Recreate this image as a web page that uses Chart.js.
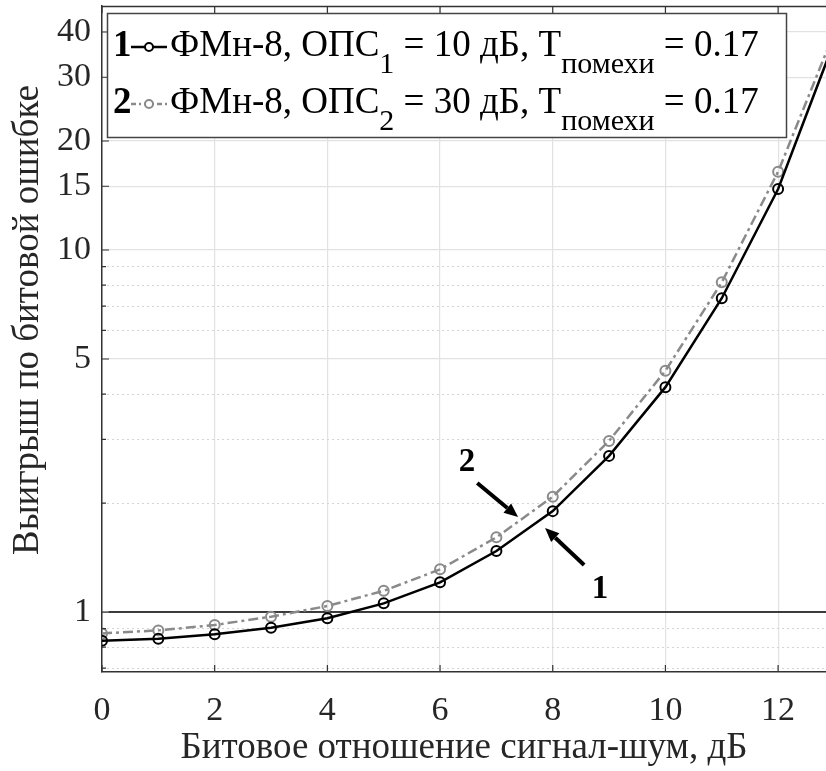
<!DOCTYPE html>
<html>
<head>
<meta charset="utf-8">
<script src="https://cdn.jsdelivr.net/npm/chart.js@4.4.0/dist/chart.umd.min.js"></script>
<style>
  html, body { margin: 0; padding: 0; background: #fff; }
  #wrap { width: 826px; height: 771px; position: relative; }
</style>
</head>
<body>
<div id="wrap"><canvas id="gain-chart"></canvas></div>
<script>
// Bit-error gain vs Eb/N0 for 8-PSK with two jammer suppression levels
const snrDb = [0, 1, 2, 3, 4, 5, 6, 7, 8, 9, 10, 11, 12, 13];
const gainOps10 = [0.833, 0.844, 0.868, 0.905, 0.961, 1.057, 1.208, 1.474, 1.90, 2.70, 4.18, 7.36, 14.74, 37.8];
const gainOps30 = [0.873, 0.890, 0.921, 0.971, 1.039, 1.145, 1.312, 1.608, 2.083, 2.97, 4.64, 8.14, 16.46, 40.0];

// reference level "no gain"
const unityX = [0.12, 13];
const unityY = [1, 1];

const xTickValues = [0, 2, 4, 6, 8, 10, 12];
const yTickValues = [1, 5, 10, 15, 20, 30, 40];
const yMinorValues = [0.7, 0.8, 0.9, 2, 3, 4, 6, 7, 8, 9];

// legend rows
const legendNums = ['1', '2'];
const opsIndex = ['1', '2'];
const opsDb = ['10', '30'];
const tNoise = '0.17';

// curve callouts (data coordinates)
const calloutText = ['2', '1'];
const calloutLabel = [[6.48, 2.597], [8.84, 1.157]];
const calloutFrom = [[6.66, 2.272], [8.557, 1.349]];
const calloutTo = [[7.385, 1.83], [7.864, 1.706]];

const SERIF = '"Liberation Serif", "Times New Roman", serif';
const AXIS_TXT = '#262626';
const GRAY = '#8a8a8a';

const pts = (xs, ys) => xs.map((x, i) => ({ x: x, y: ys[i] }));

// drop the half-label paddings so the plot box keeps its fixed place
const noPad = s => { s.paddingTop = 0; s.paddingBottom = 0; s.paddingLeft = 0; s.paddingRight = 0; };

function arrow(ctx, x1, y1, x2, y2) {
  const a = Math.atan2(y2 - y1, x2 - x1);
  const hl = 14, hw = 6;
  const bx = x2 - hl * Math.cos(a), by = y2 - hl * Math.sin(a);
  ctx.beginPath();
  ctx.moveTo(x1, y1);
  ctx.lineTo(bx, by);
  ctx.stroke();
  ctx.beginPath();
  ctx.moveTo(x2, y2);
  ctx.lineTo(bx + hw * Math.sin(a), by - hw * Math.cos(a));
  ctx.lineTo(bx - hw * Math.sin(a), by + hw * Math.cos(a));
  ctx.closePath();
  ctx.fill();
}

// text with subscripts: parts = [[text, isSub], ...]
function richText(ctx, x, baseline, parts, size, subSize, subDrop) {
  ctx.textAlign = 'left';
  ctx.textBaseline = 'alphabetic';
  parts.forEach(p => {
    ctx.font = (p[1] ? subSize : size) + 'px ' + SERIF;
    ctx.fillText(p[0], x, p[1] ? baseline + subDrop : baseline);
    x += ctx.measureText(p[0]).width;
  });
}

const overlay = {
  id: 'overlay',
  afterDraw(chart) {
    const ctx = chart.ctx;
    const area = chart.chartArea;
    const xs = chart.scales.x, ys = chart.scales.y;
    ctx.save();

    // top frame line and inward tick marks
    ctx.strokeStyle = '#333';
    ctx.lineWidth = 1.5;
    ctx.beginPath();
    ctx.moveTo(area.left, area.top + 0.5);
    ctx.lineTo(area.right, area.top + 0.5);
    ctx.stroke();
    ctx.lineWidth = 1.2;
    ctx.beginPath();
    xTickValues.forEach(v => {
      const px = xs.getPixelForValue(v);
      ctx.moveTo(px, area.bottom);
      ctx.lineTo(px, area.bottom - 7);
      ctx.moveTo(px, area.top);
      ctx.lineTo(px, area.top + 7);
    });
    yTickValues.forEach(v => {
      const py = ys.getPixelForValue(v);
      ctx.moveTo(area.left, py);
      ctx.lineTo(area.left + 7, py);
    });
    yMinorValues.forEach(v => {
      const py = ys.getPixelForValue(v);
      ctx.moveTo(area.left, py);
      ctx.lineTo(area.left + 4, py);
    });
    ctx.stroke();

    // axis titles
    ctx.fillStyle = AXIS_TXT;
    ctx.font = '37px ' + SERIF;
    ctx.textAlign = 'center';
    ctx.textBaseline = 'middle';
    ctx.fillText('Битовое отношение сигнал-шум, дБ', (area.left + area.right) / 2, 748);
    ctx.save();
    ctx.translate(28, 320);
    ctx.rotate(-Math.PI / 2);
    ctx.fillText('Выигрыш по битовой ошибке', 0, 0);
    ctx.restore();

    // callouts
    ctx.fillStyle = '#000';
    ctx.strokeStyle = '#000';
    ctx.lineWidth = 4;
    calloutText.forEach((t, i) => {
      arrow(ctx,
        xs.getPixelForValue(calloutFrom[i][0]), ys.getPixelForValue(calloutFrom[i][1]),
        xs.getPixelForValue(calloutTo[i][0]), ys.getPixelForValue(calloutTo[i][1]));
      ctx.font = 'bold 33px ' + SERIF;
      ctx.textAlign = 'center';
      ctx.textBaseline = 'middle';
      ctx.fillText(t, xs.getPixelForValue(calloutLabel[i][0]), ys.getPixelForValue(calloutLabel[i][1]));
    });

    // legend box
    const lx = 107, ly = 13, lw = 679, lh = 124;
    ctx.fillStyle = '#fff';
    ctx.fillRect(lx, ly, lw, lh);
    ctx.strokeStyle = '#444';
    ctx.lineWidth = 1.5;
    ctx.strokeRect(lx + 0.5, ly + 0.5, lw, lh);

    const rowY = [43, 100];
    const styles = [
      { color: '#000', dash: [] },
      { color: GRAY, dash: [5, 3, 2, 3] }
    ];
    legendNums.forEach((n, i) => {
      const cy = rowY[i];
      const st = styles[i];
      ctx.fillStyle = '#000';
      ctx.font = 'bold 37px ' + SERIF;
      ctx.textAlign = 'left';
      ctx.textBaseline = 'alphabetic';
      ctx.fillText(n, 113, cy + 13);
      ctx.strokeStyle = st.color;
      ctx.lineWidth = 2.5;
      ctx.setLineDash(st.dash);
      ctx.beginPath();
      ctx.moveTo(131, cy + 4);
      ctx.lineTo(167, cy + 4);
      ctx.stroke();
      ctx.setLineDash([]);
      ctx.lineWidth = 2;
      ctx.beginPath();
      ctx.arc(149, cy + 4, 4, 0, Math.PI * 2);
      ctx.fillStyle = '#fff';
      ctx.fill();
      ctx.stroke();
      ctx.fillStyle = '#000';
      richText(ctx, 170, cy + 13, [
        ['ФМн-8, ОПС', false], [opsIndex[i], true], [' = ' + opsDb[i] + ' дБ, Т', false],
        ['помехи', true], [' = ' + tNoise, false]
      ], 37, 30, 17);
    });

    ctx.restore();
  }
};

new Chart(document.getElementById('gain-chart'), {
  type: 'line',
  data: {
    datasets: [
      {
        label: 'ОПС1 = 10 дБ',
        data: pts(snrDb, gainOps10),
        borderColor: '#000',
        borderWidth: 2.5,
        pointStyle: 'circle',
        pointRadius: 5,
        pointBorderWidth: 2,
        pointBorderColor: '#000',
        pointBackgroundColor: 'rgba(0,0,0,0)',
        tension: 0
      },
      {
        label: 'ОПС2 = 30 дБ',
        data: pts(snrDb, gainOps30),
        borderColor: GRAY,
        borderWidth: 2.5,
        borderDash: [10, 4, 3, 4],
        pointStyle: 'circle',
        pointRadius: 5,
        pointBorderWidth: 2,
        pointBorderColor: GRAY,
        pointBackgroundColor: 'rgba(0,0,0,0)',
        tension: 0
      },
      {
        label: 'unity',
        data: pts(unityX, unityY),
        borderColor: '#000',
        borderWidth: 1.5,
        pointRadius: 0
      }
    ]
  },
  options: {
    responsive: true,
    maintainAspectRatio: false,
    animation: false,
    devicePixelRatio: 1,
    layout: { autoPadding: false, padding: { top: 6, right: 0, left: 0, bottom: 0 } },
    plugins: { legend: { display: false }, tooltip: { enabled: false } },
    scales: {
      x: {
        type: 'linear',
        min: 0,
        max: 12.85,
        afterBuildTicks: s => { s.ticks = xTickValues.map(v => ({ value: v })); },
        afterFit: s => { s.height = 99; noPad(s); },
        grid: { color: '#e2e2e2', lineWidth: 1.2, drawTicks: false },
        border: { color: '#333', width: 1.5 },
        ticks: {
          font: { family: SERIF, size: 34 },
          color: AXIS_TXT,
          padding: 19,
          maxRotation: 0,
          autoSkip: false,
          callback: v => String(v)
        }
      },
      y: {
        type: 'logarithmic',
        min: 0.683,
        max: 47.2,
        afterBuildTicks: s => { s.ticks = yTickValues.map(v => ({ value: v })); },
        afterFit: s => { s.width = 102; noPad(s); },
        grid: { color: '#e2e2e2', lineWidth: 1.2, drawTicks: false },
        border: { color: '#333', width: 1.5 },
        ticks: {
          font: { family: SERIF, size: 34 },
          color: AXIS_TXT,
          padding: 11,
          autoSkip: false,
          callback: v => String(v)
        }
      },
      yMinor: {
        type: 'logarithmic',
        position: 'right',
        min: 0.683,
        max: 47.2,
        afterBuildTicks: s => { s.ticks = yMinorValues.map(v => ({ value: v })); },
        afterFit: s => { s.width = 0; noPad(s); },
        grid: { color: '#d4d4d4', lineWidth: 1, drawTicks: false },
        border: { display: false, dash: [2, 3] },
        ticks: { display: false }
      }
    }
  },
  plugins: [overlay]
});
</script>
</body>
</html>
